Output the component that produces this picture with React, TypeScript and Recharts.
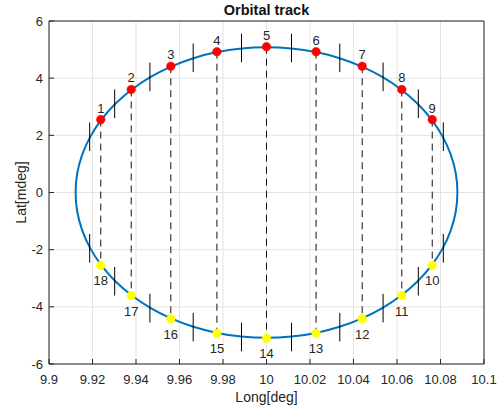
import React from 'react';
import { ComposedChart, Line, Scatter, XAxis, YAxis, CartesianGrid } from 'recharts';

// Orbital track (closed curve), every 7.5 degrees of the orbit
const trackLon = [
  10.088, 10.0873, 10.085, 10.0813, 10.0762, 10.0698, 10.0622, 10.0536, 10.044, 10.0337, 10.0228, 10.0115, 10,
  9.9885, 9.9772, 9.9663, 9.956, 9.9464, 9.9378, 9.9302, 9.9238, 9.9187, 9.915, 9.9127, 9.912,
  9.9127, 9.915, 9.9187, 9.9238, 9.9302, 9.9378, 9.9464, 9.956, 9.9663, 9.9772, 9.9885, 10,
  10.0115, 10.0228, 10.0337, 10.044, 10.0536, 10.0622, 10.0698, 10.0762, 10.0813, 10.085, 10.0873,
];
const trackLat = [
  0, 0.666, 1.32, 1.952, 2.55, 3.105, 3.606, 4.046, 4.417, 4.712, 4.926, 5.056, 5.1,
  5.056, 4.926, 4.712, 4.417, 4.046, 3.606, 3.105, 2.55, 1.952, 1.32, 0.666, 0,
  -0.666, -1.32, -1.952, -2.55, -3.105, -3.606, -4.046, -4.417, -4.712, -4.926, -5.056, -5.1,
  -5.056, -4.926, -4.712, -4.417, -4.046, -3.606, -3.105, -2.55, -1.952, -1.32, -0.666,
];

// Upper (red) numbered points 1..9
const upperIds = ['1', '2', '3', '4', '5', '6', '7', '8', '9'];
const upperLon = [9.9238, 9.9378, 9.956, 9.9772, 10, 10.0228, 10.044, 10.0622, 10.0762];
const upperLat = [2.55, 3.606, 4.417, 4.926, 5.1, 4.926, 4.417, 3.606, 2.55];

// Lower (yellow) numbered points 10..18
const lowerIds = ['10', '11', '12', '13', '14', '15', '16', '17', '18'];
const lowerLon = [10.0762, 10.0622, 10.044, 10.0228, 10, 9.9772, 9.956, 9.9378, 9.9238];
const lowerLat = [-2.55, -3.606, -4.417, -4.926, -5.1, -4.926, -4.417, -3.606, -2.55];

// Short cross marks on the track
const markLon = [9.9187, 9.9302, 9.9464, 9.9663, 9.9885, 10.0115, 10.0337, 10.0536, 10.0698, 10.0813];
const markLatUpper = [1.952, 3.105, 4.046, 4.712, 5.056, 5.056, 4.712, 4.046, 3.105, 1.952];
const markLatLower = [-1.952, -3.105, -4.046, -4.712, -5.056, -5.056, -4.712, -4.046, -3.105, -1.952];
const markHalfLen = 0.5;

// Axes
const xTicks = [9.9, 9.92, 9.94, 9.96, 9.98, 10, 10.02, 10.04, 10.06, 10.08, 10.1];
const xTickLabels = ['9.9', '9.92', '9.94', '9.96', '9.98', '10', '10.02', '10.04', '10.06', '10.08', '10.1'];
const yTicks = [-6, -4, -2, 0, 2, 4, 6];
const yTickLabels = ['-6', '-4', '-2', '0', '2', '4', '6'];

const FONT = '"Liberation Sans", Arial, Helvetica, sans-serif';
const AXIS = '#262626';

const trackData = trackLon.map((x, i) => ({ x, y: trackLat[i] }));
const upperData = upperIds.map((label, i) => ({ x: upperLon[i], y: upperLat[i], label }));
const lowerData = lowerIds.map((label, i) => ({ x: lowerLon[i], y: lowerLat[i], label }));
const dashData = upperData.map((p, i) => {
  const q = lowerData[lowerData.length - 1 - i];
  return [{ x: p.x, y: p.y }, { x: q.x, y: q.y }];
});
const markData: { x: number; y: number }[][] = [];
markLon.forEach((x, i) => {
  markData.push([{ x, y: markLatUpper[i] - markHalfLen }, { x, y: markLatUpper[i] + markHalfLen }]);
  markData.push([{ x, y: markLatLower[i] - markHalfLen }, { x, y: markLatLower[i] + markHalfLen }]);
});

const makeMarker = (fill: string, below: boolean) => (props: any) => {
  const { cx, cy, payload } = props;
  if (cx == null || cy == null) return <g />;
  return (
    <g>
      <circle cx={cx} cy={cy} r={4.3} fill={fill} stroke={fill} strokeWidth={0.5} />
      <text
        x={cx}
        y={below ? cy + 20 : cy - 7}
        textAnchor="middle"
        fontSize={13}
        fontFamily={FONT}
        fill={AXIS}
      >
        {payload.label}
      </text>
    </g>
  );
};

const YLabel = (props: any) => {
  const vb = props.viewBox || { x: 0, y: 21, width: 49, height: 343 };
  const cx = 21;
  const cy = vb.y + vb.height / 2;
  return (
    <text
      x={cx}
      y={cy}
      transform={`rotate(-90 ${cx} ${cy})`}
      textAnchor="middle"
      dominantBaseline="central"
      fontSize={14}
      fontFamily={FONT}
      fill={AXIS}
    >
      Lat[mdeg]
    </text>
  );
};

export default function App() {
  return (
    <div style={{ position: 'absolute', left: 0, top: 0, width: 503, height: 412, background: '#fff', fontFamily: FONT }}>
      <ComposedChart width={503} height={412} margin={{ top: 20, right: 18, bottom: 18, left: 0 }}>
        <CartesianGrid stroke="#e3e3e3" strokeWidth={1} />
        <XAxis
          xAxisId={0}
          dataKey="x"
          type="number"
          domain={[9.9, 10.1]}
          ticks={xTicks}
          interval={0}
          tickFormatter={(v: number, i: number) => xTickLabels[i] ?? String(v)}
          height={30}
          tickSize={-5}
          tickMargin={16}
          stroke={AXIS}
          tick={{ fontSize: 13, fill: AXIS, fontFamily: FONT }}
          label={{ value: 'Long[deg]', position: 'bottom', offset: -2, fontSize: 14, fill: AXIS, fontFamily: FONT }}
        />
        <XAxis
          xAxisId="top"
          orientation="top"
          type="number"
          dataKey="x"
          domain={[9.9, 10.1]}
          ticks={xTicks}
          interval={0}
          height={1}
          tickSize={-5}
          tick={false}
          stroke={AXIS}
          label={{ value: 'Orbital track', position: 'top', offset: 5, fontSize: 14.5, fontWeight: 'bold', fill: '#111', fontFamily: FONT }}
        />
        <YAxis
          yAxisId={0}
          dataKey="y"
          type="number"
          domain={[-6, 6]}
          ticks={yTicks}
          interval={0}
          tickFormatter={(v: number, i: number) => yTickLabels[i] ?? String(v)}
          width={49}
          tickSize={-5}
          tickMargin={11}
          stroke={AXIS}
          tick={{ fontSize: 13, fill: AXIS, fontFamily: FONT }}
          label={<YLabel />}
        />
        <YAxis
          yAxisId="right"
          orientation="right"
          type="number"
          dataKey="y"
          domain={[-6, 6]}
          ticks={yTicks}
          interval={0}
          width={1}
          tickSize={-5}
          tick={false}
          stroke={AXIS}
        />
        <Line
          data={trackData}
          dataKey="y"
          type="basisClosed"
          stroke="#0072BD"
          strokeWidth={2}
          dot={false}
          activeDot={false}
          isAnimationActive={false}
        />
        {dashData.map((d, i) => (
          <Line
            key={'dash' + i}
            data={d}
            dataKey="y"
            type="linear"
            stroke="#111"
            strokeWidth={1}
            strokeDasharray="7 5"
            dot={false}
            activeDot={false}
            isAnimationActive={false}
          />
        ))}
        {markData.map((d, i) => (
          <Line
            key={'mark' + i}
            data={d}
            dataKey="y"
            type="linear"
            stroke="#000"
            strokeWidth={1}
            dot={false}
            activeDot={false}
            isAnimationActive={false}
          />
        ))}
        <Scatter data={upperData} dataKey="y" shape={makeMarker('#ff0000', false)} isAnimationActive={false} />
        <Scatter data={lowerData} dataKey="y" shape={makeMarker('#ffff00', true)} isAnimationActive={false} />
      </ComposedChart>
    </div>
  );
}
